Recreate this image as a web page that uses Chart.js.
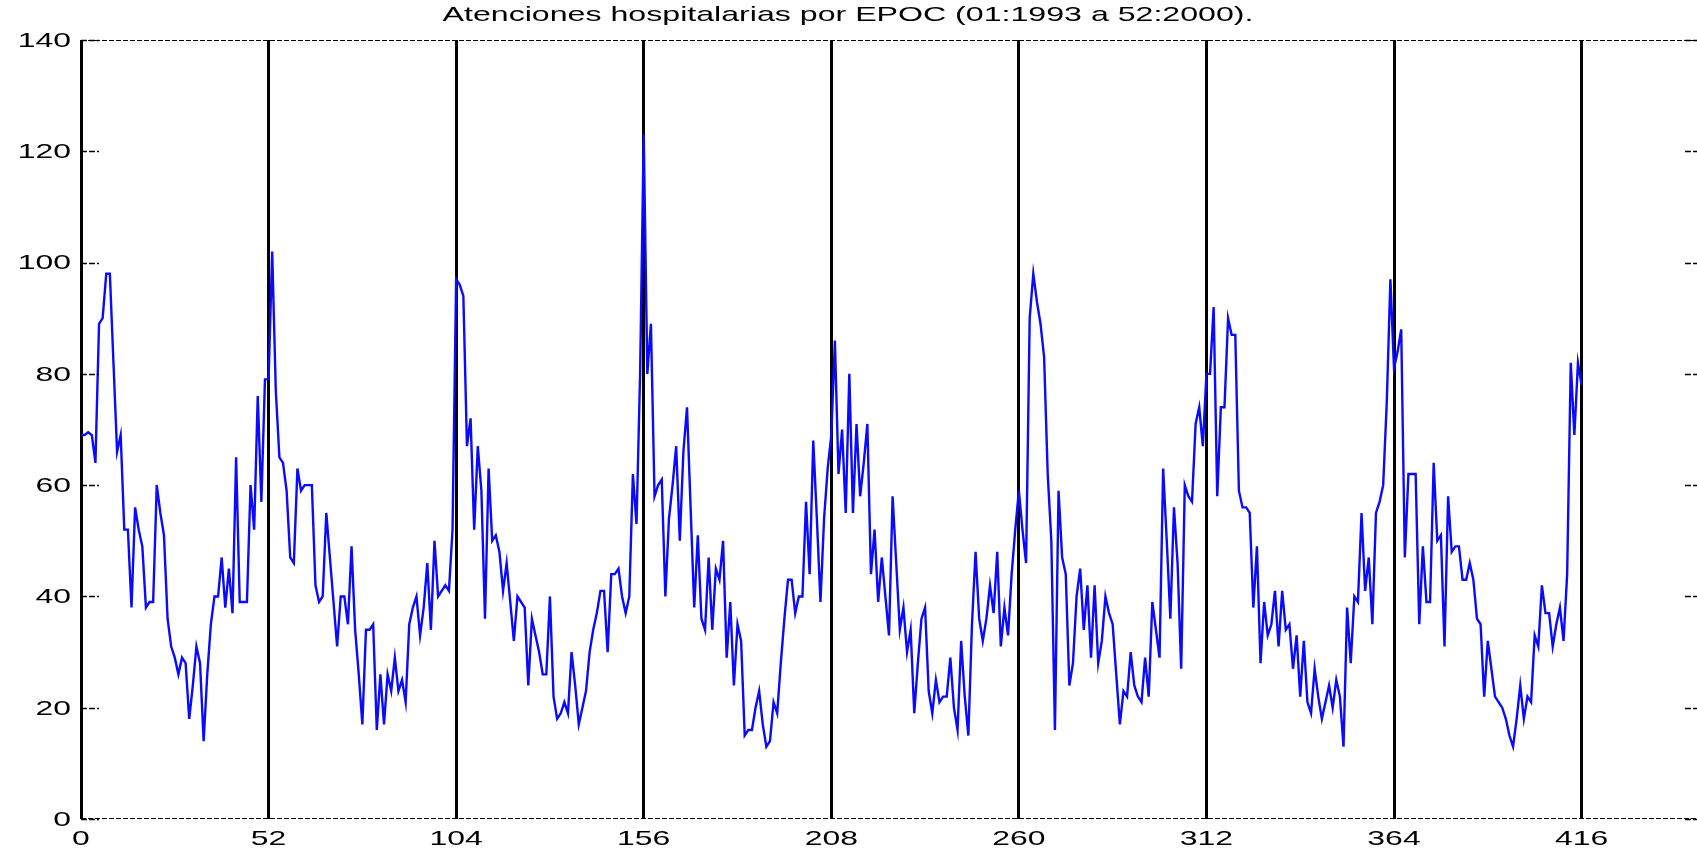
<!DOCTYPE html>
<html lang="es">
  <head>
    <meta charset="UTF-8" />
    <meta name="viewport" content="width=device-width, initial-scale=1.0" />
    <script src="https://cdn.jsdelivr.net/npm/chart.js"></script>
    <title>Atenciones hospitalarias por EPOC</title>
    <style>
      html, body { margin: 0; padding: 0; background: #fff; overflow: hidden; }
      #wrap { width: 1697px; height: 852px; }
    </style>
  </head>
  <body>
    <div id="wrap"><canvas id="myChart"></canvas></div>
    <script>
      // weekly counts, one array per year (last one carries the closing point at 416)
      const y1993 = [69, 69, 69.5, 69, 64, 89, 90, 98, 98, 82, 66, 69, 52, 52, 38, 56, 52, 49, 38, 39, 39, 60, 55, 51, 36, 31,
                     29, 26, 29, 28, 18, 24, 31, 28, 14, 26, 35, 40, 40, 47, 38, 45, 37, 65, 39, 39, 39, 60, 52, 76, 57, 79];
      const y1994 = [79, 102, 77, 65, 64, 59, 47, 46, 63, 59, 60, 60, 60, 42, 39, 40, 55, 47, 39, 31, 40, 40, 35, 49, 34, 26,
                     17, 34, 34, 35, 16, 26, 17, 26, 23, 29, 23, 25, 21, 35, 38, 40, 33, 38, 46, 34, 50, 40, 41, 42, 41, 52];
      const y1995 = [97, 96, 94, 67, 72, 52, 67, 59, 36, 63, 50, 51, 48, 41, 46, 39, 32, 40, 39, 38, 24, 36, 33, 30, 26, 26,
                     40, 22, 18, 19, 21, 19, 30, 24, 17, 20, 23, 30, 34, 37, 41, 41, 30, 44, 44, 45, 40, 37, 40, 62, 53, 80];
      const y1996 = [123, 80, 89, 58, 60, 61, 40, 54, 60, 67, 50, 66, 74, 56, 38, 51, 36, 34, 47, 34, 45, 43, 50, 29, 39, 24,
                     35, 32, 15, 16, 16, 20, 23, 17, 13, 14, 21, 19, 28, 36, 43, 43, 37, 40, 40, 57, 44, 68, 54, 39, 54, 63];
      const y1997 = [69, 86, 62, 70, 55, 80, 55, 71, 58, 64, 71, 44, 52, 39, 47, 40, 33, 58, 46, 34, 38, 30, 34, 19, 28, 36,
                     38, 23, 19, 25, 21, 22, 22, 29, 20, 16, 32, 22, 15, 35, 48, 36, 32, 36, 42, 37, 48, 31, 38, 33, 44, 52];
      const y1998 = [59, 52, 46, 90, 98, 93, 89, 83, 62, 50, 16, 59, 47, 44, 24, 28, 40, 45, 34, 42, 29, 42, 28, 32, 40, 37,
                     35, 26, 17, 23, 22, 30, 24, 22, 21, 29, 22, 39, 34, 29, 63, 50, 36, 56, 46, 27, 60, 58, 57, 71, 74, 67];
      const y1999 = [80, 80, 92, 58, 74, 74, 90, 87, 87, 59, 56, 56, 55, 38, 49, 28, 39, 33, 35, 41, 31, 41, 34, 35, 27, 33,
                     22, 32, 21, 19, 27, 22, 18, 21, 24, 20, 25, 22, 13, 38, 28, 40, 39, 55, 41, 47, 35, 55, 57, 60, 75, 97];
      const y2000 = [81, 84, 88, 47, 62, 62, 62, 35, 49, 39, 39, 64, 50, 51, 31, 58, 48, 49, 49, 43, 43, 46, 43, 36, 35, 22,
                     32, 27, 22, 21, 20, 18, 15, 13, 18, 24, 18, 22, 21, 33, 31, 42, 37, 37, 31, 35, 38, 32, 44, 82, 69, 82, 78];

      const xTicks = [0, 52, 104, 156, 208, 260, 312, 364, 416];
      const yTicks = [0, 20, 40, 60, 80, 100, 120, 140];
      const titulo = "Atenciones hospitalarias por EPOC (01:1993 a 52:2000).";

      const serie = [].concat(y1993, y1994, y1995, y1996, y1997, y1998, y1999, y2000);
      const puntos = serie.map((v, i) => ({ x: i, y: v }));

      // text in the original is stretched wide, draw it scaled horizontally
      function wideText(ctx, txt, x, y, sx) {
        ctx.save();
        ctx.translate(x, y);
        ctx.scale(sx, 1);
        ctx.fillText(txt, 0, 0);
        ctx.restore();
      }

      const ejes = {
        id: "ejes",
        afterDraw(chart) {
          const ctx = chart.ctx;
          const a = chart.chartArea;
          const xs = chart.scales.x;
          const ys = chart.scales.y;
          ctx.save();
          ctx.strokeStyle = "#000";

          // top and bottom frame
          ctx.lineWidth = 1.2;
          ctx.setLineDash([5, 2]);
          ctx.beginPath();
          ctx.moveTo(a.left, a.top + 0.5);
          ctx.lineTo(a.right, a.top + 0.5);
          ctx.moveTo(a.left, a.bottom - 0.5);
          ctx.lineTo(a.right, a.bottom - 0.5);
          ctx.stroke();

          // y tick marks, left and right
          ctx.lineWidth = 1.3;
          ctx.setLineDash([6, 2]);
          ctx.beginPath();
          yTicks.forEach(v => {
            const py = Math.round(ys.getPixelForValue(v)) + 0.5;
            ctx.moveTo(a.left, py);
            ctx.lineTo(a.left + 18, py);
            ctx.moveTo(a.right - 12, py);
            ctx.lineTo(a.right, py);
          });
          ctx.stroke();
          ctx.setLineDash([]);

          ctx.fillStyle = "#000";
          ctx.font = '21px "Liberation Sans", Arial, sans-serif';

          ctx.textAlign = "right";
          ctx.textBaseline = "middle";
          yTicks.forEach(v => wideText(ctx, String(v), 71, ys.getPixelForValue(v) + 1, 1.52));

          ctx.textAlign = "center";
          ctx.textBaseline = "alphabetic";
          xTicks.forEach(v => wideText(ctx, String(v), xs.getPixelForValue(v), 845, 1.52));

          wideText(ctx, titulo, 848, 21, 1.53);
          ctx.restore();
        }
      };

      const config = {
        type: "line",
        data: {
          datasets: [
            {
              label: "EPOC",
              data: puntos,
              borderColor: "#0a0aff",
              borderWidth: 2.4,
              pointRadius: 0,
              tension: 0,
              fill: false
            }
          ]
        },
        options: {
          responsive: true,
          maintainAspectRatio: false,
          animation: false,
          devicePixelRatio: 1,
          layout: { padding: { left: 81, top: 40, right: 0, bottom: 33 } },
          plugins: { legend: { display: false }, tooltip: { enabled: false }, title: { display: false } },
          scales: {
            x: {
              type: "linear",
              min: 0,
              max: 448,
              border: { display: false },
              grid: { color: "#000", lineWidth: 3, drawTicks: false },
              ticks: { display: false },
              afterBuildTicks: s => { s.ticks = xTicks.map(v => ({ value: v })); }
            },
            y: {
              min: 0,
              max: 140,
              display: false
            }
          }
        },
        plugins: [ejes]
      };

      var myChart = new Chart(document.getElementById("myChart"), config);
    </script>
  </body>
</html>
